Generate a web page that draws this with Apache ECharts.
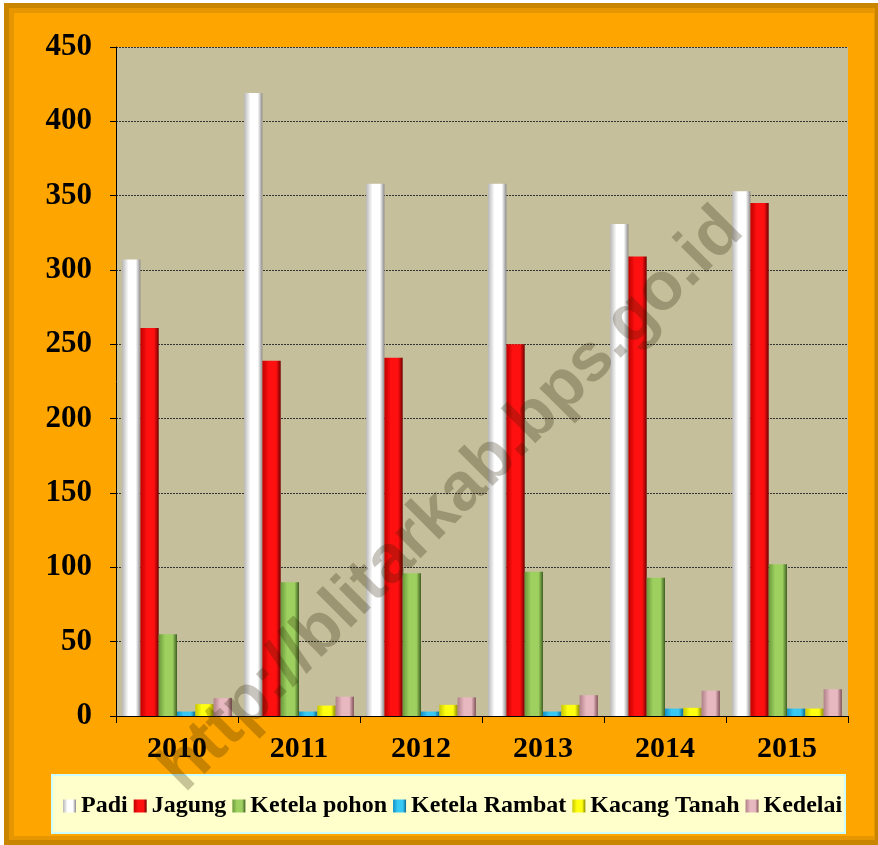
<!DOCTYPE html>
<html style="height: 100%">
<head>
<meta charset="utf-8" />
<title>Produksi Tanaman Pangan</title>
<script src="https://cdn.jsdelivr.net/npm/echarts@6/dist/echarts.min.js"></script>
</head>
<body style="height: 100%; margin: 0">
<div id="container" style="width: 878px; height: 845px"></div>
<script type="text/javascript">
// data
var years = ['2010', '2011', '2012', '2013', '2014', '2015'];
var padi = [307, 419, 358, 358, 331, 353];
var jagung = [261, 239, 241, 250, 309, 345];
var ketelaPohon = [55, 90, 96, 97, 93, 102];
var ketelaRambat = [3, 3, 3, 3, 5, 5];
var kacangTanah = [8, 7, 7.5, 7.5, 5.5, 5];
var kedelai = [12, 13, 12.5, 14, 17, 18];

var serif = '"Liberation Serif", "DejaVu Serif", serif';

// cylinder-ish look: dark edge, bright middle, dark edge
function tube(edge, mid, dark) {
  return new echarts.graphic.LinearGradient(0, 0, 1, 0, [
    { offset: 0, color: edge },
    { offset: 0.35, color: mid },
    { offset: 0.75, color: mid },
    { offset: 1, color: dark }
  ]);
}

var seriesList = [
  { name: 'Padi', data: padi, color: tube('#b8b8b8', '#ffffff', '#8a8a8a') },
  { name: 'Jagung', data: jagung, color: tube('#c00000', '#ff1010', '#700000') },
  { name: 'Ketela pohon', data: ketelaPohon, color: tube('#6a9a3a', '#9ed060', '#3e5e20') },
  { name: 'Ketela Rambat', data: ketelaRambat, color: tube('#1090c8', '#38c8f4', '#0a6890') },
  { name: 'Kacang Tanah', data: kacangTanah, color: tube('#c8c800', '#ffff10', '#8a8a00') },
  { name: 'Kedelai', data: kedelai, color: tube('#b08088', '#e8b8c0', '#805058') }
];

var chart = echarts.init(document.getElementById('container'));
chart.setOption({
  backgroundColor: '#ffffff',
  animation: false,
  graphic: [
    // frame
    { type: 'rect', z: -10, shape: { x: 4, y: 3, width: 874, height: 842 },
      style: { fill: '#c98400' } },
    { type: 'rect', z: -9, shape: { x: 9, y: 8, width: 866, height: 832 },
      style: { fill: '#e69600' } },
    { type: 'rect', z: -8, shape: { x: 14, y: 13, width: 860, height: 823 },
      style: { fill: '#ffa500' } },
    // legend box
    { type: 'rect', z: -5, shape: { x: 52, y: 775, width: 793, height: 58 },
      style: { fill: '#ffffcc', stroke: '#ccffff', lineWidth: 2 } },
    // watermark
    { type: 'text', z: 100, x: 452, y: 500, rotation: Math.PI / 4,
      style: { text: 'http://blitarkab.bps.go.id', fill: 'rgba(40,30,0,0.26)',
        font: 'bold 68px "Liberation Sans", Arial, sans-serif',
        align: 'center', verticalAlign: 'middle' } }
  ],
  legend: {
    left: 58,
    top: 789,
    itemWidth: 13,
    itemHeight: 13,
    itemGap: 6,
    icon: 'rect',
    textStyle: { fontFamily: serif, fontWeight: 'bold', fontSize: 24, color: '#000' },
    data: seriesList.map(function (s) { return s.name; })
  },
  grid: {
    left: 116, right: 30, top: 47, bottom: 129,
    show: true, backgroundColor: '#c6bf9b', borderWidth: 0
  },
  xAxis: {
    type: 'category',
    data: years,
    axisLine: { lineStyle: { color: '#000', width: 1 } },
    axisTick: { show: true, length: 7, lineStyle: { color: '#000' } },
    axisLabel: { margin: 18, fontFamily: serif, fontWeight: 'bold', fontSize: 30, color: '#000' }
  },
  yAxis: {
    type: 'value',
    min: 0, max: 450, interval: 50,
    axisLine: { show: true, lineStyle: { color: '#000', width: 1 } },
    axisTick: { show: true, length: 6, lineStyle: { color: '#000' } },
    axisLabel: { margin: 24, fontFamily: serif, fontWeight: 'bold', fontSize: 31, color: '#000' },
    splitLine: { lineStyle: { color: '#333', type: [2, 1], width: 1 } }
  },
  series: seriesList.map(function (s) {
    return {
      name: s.name,
      type: 'bar',
      data: s.data,
      barGap: '0%',
      barCategoryGap: '10%',
      itemStyle: { color: s.color }
    };
  })
});
</script>
</body>
</html>
